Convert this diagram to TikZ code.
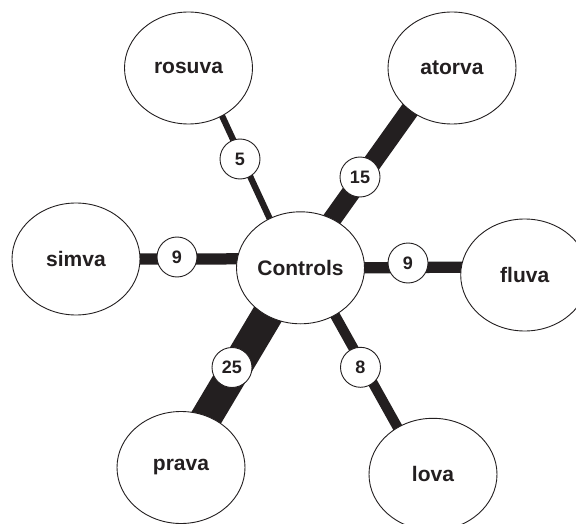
\documentclass[tikz,border=0pt]{standalone}
\usepackage{fontspec}
\setmainfont{Liberation Sans}
\usetikzlibrary{shapes.geometric}
\pgfdeclarelayer{background}
\pgfsetlayers{background,main}
\definecolor{ink}{HTML}{231F20}
\begin{document}
\begin{tikzpicture}[x=1pt,y=-1pt,
  drug/.style={ellipse, draw=ink, line width=0.9pt, fill=white, minimum width=128pt, minimum height=112pt, inner sep=0pt, font=\fontsize{21}{24}\selectfont\bfseries, text=ink},
  count/.style={circle, draw=ink, line width=0.9pt, fill=white, minimum size=40pt, inner sep=0pt, font=\fontsize{18}{20}\selectfont\bfseries, text=ink},
  link/.style={draw=ink, line width=#1, shorten <=-24pt, shorten >=-24pt}]
\useasboundingbox (0,0) rectangle (576,524);
\clip (0,0) rectangle (576,524);
\node[drug] (rosuva) at (188.5,68) {rosuva};
\node[drug] (atorva) at (452,68) {atorva};
\node[drug] (simva) at (76,259) {simva};
\node[drug] (controls) at (300.5,267.8) {Controls};
\node[drug] (fluva) at (524.7,275) {fluva};
\node[drug] (prava) at (181,467.5) {prava};
\node[drug] (lova) at (433,474.3) {lova};
\node[count] (n5) at (240,159) {5};
\node[count] (n15) at (360,177) {15};
\node[count] (n9a) at (177,257) {9};
\node[count] (n9b) at (408,263) {9};
\node[count] (n25) at (232,367.5) {25};
\node[count] (n8) at (360.5,367.3) {8};
\begin{pgfonlayer}{background}
\draw[link=6.25pt] (rosuva.-55) -- (controls.122);
\draw[link=18.75pt] (atorva.225) -- (controls.57);
\draw[link=11.25pt] (simva.east) -- (controls.172);
\draw[link=11.25pt] (controls.east) -- (fluva.173);
\draw[link=31.25pt] (prava.63) -- (controls.235);
\draw[link=10pt] (controls.-54) -- (lova.127);
\end{pgfonlayer}
\end{tikzpicture}
\end{document}
